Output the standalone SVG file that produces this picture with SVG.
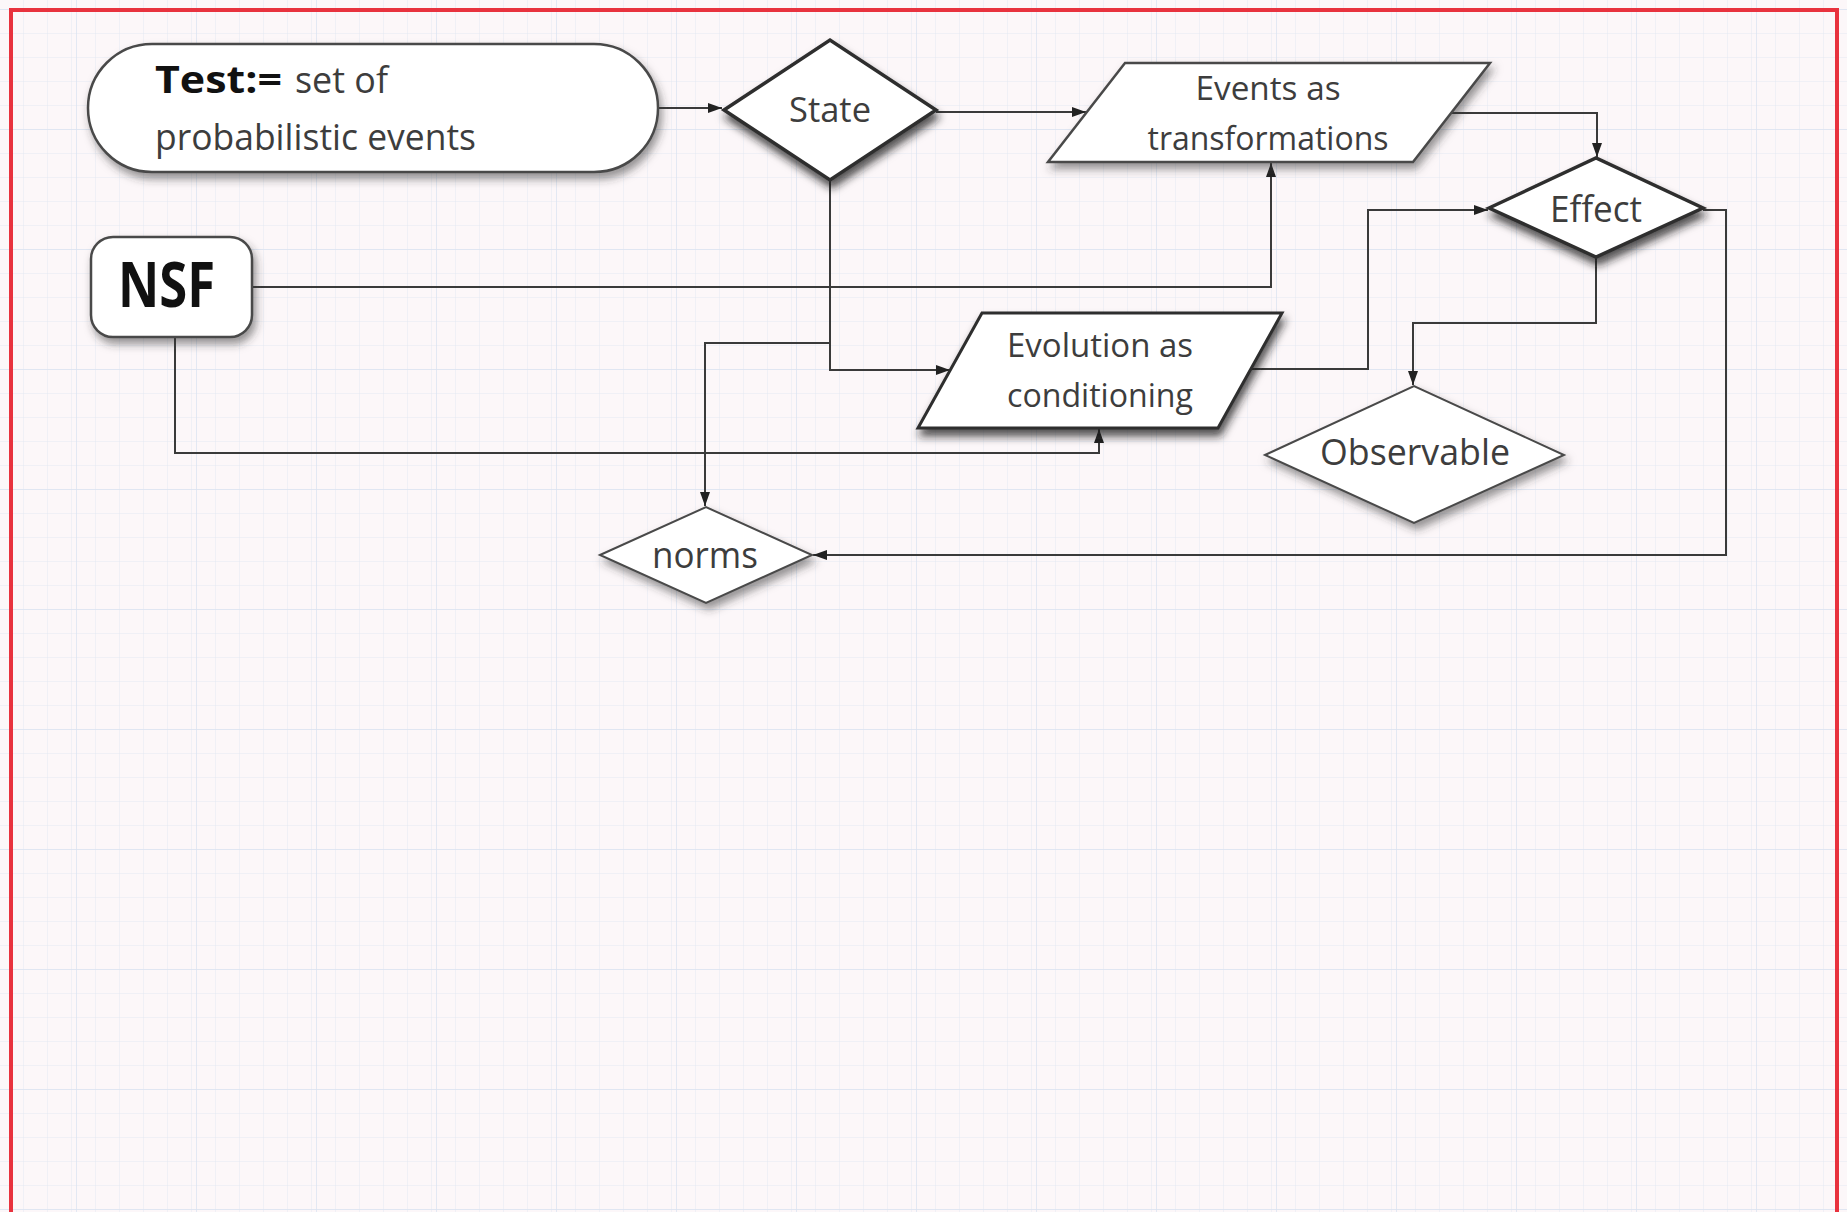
<svg xmlns="http://www.w3.org/2000/svg" width="1847" height="1212" viewBox="0 0 1847 1212">
  <style>
    .node { fill: #ffffff; stroke: #4a4a4a; stroke-width: 2.5; }
    .thick { stroke: #2e2e2e; stroke-width: 3.5; }
    .lbl { font-family: "Open Sans", "Liberation Sans", sans-serif; fill: #3d3d3d; text-anchor: middle; }
    .bold { font-family: "Open Sans", "Liberation Sans", sans-serif; font-weight: bold; fill: #111; }
    .conn path { fill: none; stroke: #3a3a3a; stroke-width: 2; }
  </style>
  <defs>
    <pattern id="grid" width="24" height="24" patternUnits="userSpaceOnUse" x="0" y="10">
      <path d="M24 0 V24 M0 24 H24" fill="none" stroke="#e4e8f2" stroke-width="1"/>
    </pattern>
    <pattern id="gridMajor" width="120" height="120" patternUnits="userSpaceOnUse" x="-43" y="10">
      <path d="M120 0 V120 M0 120 H120" fill="none" stroke="#dbe3f1" stroke-width="1.5"/>
    </pattern>
    <filter id="shadow" x="-20%" y="-20%" width="150%" height="160%">
      <feDropShadow dx="3" dy="6" stdDeviation="4" flood-color="#303030" flood-opacity="0.5"/>
    </filter>
    <filter id="shadowDark" x="-20%" y="-20%" width="150%" height="160%">
      <feDropShadow dx="2" dy="7" stdDeviation="4" flood-color="#1a1a1a" flood-opacity="0.75"/>
    </filter>
    <marker id="arrow" viewBox="0 0 14 10" refX="14" refY="5" markerWidth="14" markerHeight="10" markerUnits="userSpaceOnUse" orient="auto">
      <path d="M0 0 L14 5 L0 10 Z" fill="#222"/>
    </marker>
  </defs>

  <rect x="0" y="0" width="1847" height="1212" fill="#fcf7f9"/>
  <rect x="0" y="0" width="1847" height="1212" fill="url(#grid)"/>
  <rect x="0" y="0" width="1847" height="1212" fill="url(#gridMajor)"/>
  <rect x="11" y="10" width="1826" height="1220" fill="none" stroke="#e8323e" stroke-width="4"/>

  <g class="conn" id="connectors">
    <path d="M658 108 H722" marker-end="url(#arrow)"/>
    <path d="M936 112 H1086" marker-end="url(#arrow)"/>
    <path d="M1452 113 H1597 V157" marker-end="url(#arrow)"/>
    <path d="M252 287 H1271 V163" marker-end="url(#arrow)"/>
    <path d="M830 180 V370 H950" marker-end="url(#arrow)"/>
    <path d="M830 343 H705 V506" marker-end="url(#arrow)"/>
    <path d="M175 338 V453 H1099 V429" marker-end="url(#arrow)"/>
    <path d="M1251 369 H1368 V210 H1488" marker-end="url(#arrow)"/>
    <path d="M1596 257 V323 H1413 V385" marker-end="url(#arrow)"/>
    <path d="M1703 210 H1726 V555 H813" marker-end="url(#arrow)"/>
  </g>

  <g id="test">
    <rect class="node" x="88" y="44" width="570" height="128" rx="64" filter="url(#shadow)"/>
    <text x="155" y="93" font-size="38"><tspan class="bold" textLength="127" lengthAdjust="spacingAndGlyphs">Test:=</tspan></text>
    <text x="295" y="93" font-size="37" class="lbl" style="text-anchor:start" textLength="93" lengthAdjust="spacingAndGlyphs">set of</text>
    <text x="155" y="150" font-size="37" class="lbl" style="text-anchor:start" textLength="321" lengthAdjust="spacingAndGlyphs">probabilistic events</text>
  </g>

  <g id="state">
    <polygon class="node thick" points="724,110 830,40 936,110 830,180" filter="url(#shadowDark)"/>
    <text class="lbl" x="830" y="122" font-size="35" textLength="82" lengthAdjust="spacingAndGlyphs">State</text>
  </g>

  <g id="nsf">
    <rect class="node" x="91" y="237" width="161" height="100" rx="22" filter="url(#shadow)"/>
    <text class="bold" x="118" y="307" font-size="62" textLength="97" lengthAdjust="spacingAndGlyphs">NSF</text>
  </g>

  <g id="events">
    <polygon class="node" points="1125,63 1490,63 1413,162 1048,162" filter="url(#shadow)"/>
    <text class="lbl" x="1268" y="100" font-size="32" textLength="145" lengthAdjust="spacingAndGlyphs">Events as</text>
    <text class="lbl" x="1268" y="150" font-size="32" textLength="241" lengthAdjust="spacingAndGlyphs">transformations</text>
  </g>

  <g id="effect">
    <polygon class="node thick" points="1489,208 1596,158 1703,208 1596,257" filter="url(#shadowDark)"/>
    <text class="lbl" x="1596" y="222" font-size="36" textLength="92" lengthAdjust="spacingAndGlyphs">Effect</text>
  </g>

  <g id="evolution">
    <polygon class="node thick" points="982,313 1282,313 1218,428 918,428" style="stroke-width:3" filter="url(#shadowDark)"/>
    <text class="lbl" x="1100" y="357" font-size="33" textLength="186" lengthAdjust="spacingAndGlyphs">Evolution as</text>
    <text class="lbl" x="1100" y="407" font-size="33" textLength="186" lengthAdjust="spacingAndGlyphs">conditioning</text>
  </g>

  <g id="observable">
    <polygon class="node" points="1265,455 1414,386 1564,455 1414,523" style="stroke-width:2" filter="url(#shadow)"/>
    <text class="lbl" x="1415" y="465" font-size="37" textLength="190" lengthAdjust="spacingAndGlyphs">Observable</text>
  </g>

  <g id="norms">
    <polygon class="node" points="600,555 706,507 812,555 706,603" style="stroke-width:2" filter="url(#shadow)"/>
    <text class="lbl" x="705" y="568" font-size="36" textLength="106" lengthAdjust="spacingAndGlyphs">norms</text>
  </g>
</svg>
